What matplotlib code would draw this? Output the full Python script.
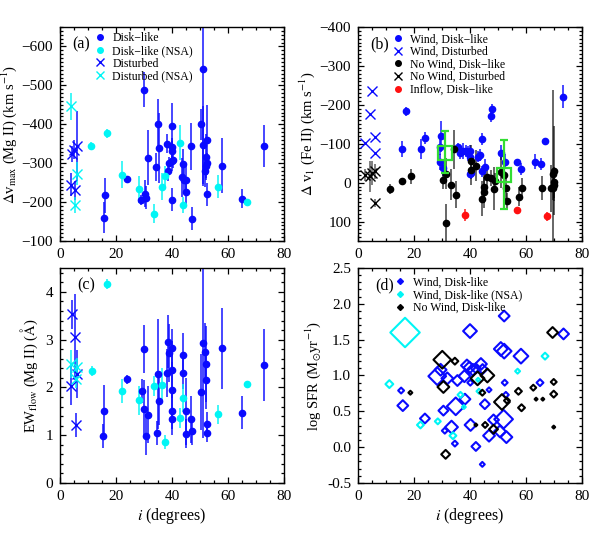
import matplotlib
matplotlib.use("Agg")
import matplotlib.pyplot as plt
from matplotlib.lines import Line2D
from matplotlib.ticker import MultipleLocator, FormatStrFormatter
import numpy as np

plt.rcParams['font.family'] = ['Liberation Serif', 'DejaVu Serif']
plt.rcParams['mathtext.fontset'] = 'stix'

# ---------------- panel (a): dv_max (Mg II) ----------------
a_disk_x = [15.7, 16.1, 23.8, 30.0, 28.8, 30.4, 30.6, 31.5, 34.3, 34.9, 35.5, 38.1, 38.7, 39.0,
            39.9, 39.9, 39.9, 39.9, 39.9, 40.2, 43.5, 44.0, 44.4, 45.0, 45.0, 46.8, 47.0, 50.4,
            51.0, 51.0, 51.8, 52.0, 52.1, 52.4, 52.4, 52.6, 57.7, 64.9, 73.0]
a_disk_y = [-160, -217, -260, -489, -205, -222, -211, -314, -290, -400, -339, -350, -279, -301,
            -305, -395, -341, -331, -206, -307, -264, -297, -258, -256, -226, -343, -157, -400,
            -541, -347, -280, -316, -293, -359, -220, -301, -294, -209, -344]
a_disk_err = [40, 45, 8, 45, 12, 35, 30, 70, 35, 65, 90, 25, 25, 15,
              25, 60, 25, 25, 30, 20, 50, 40, 30, 40, 35, 60, 30, 40,
              300, 100, 40, 60, 30, 90, 30, 25, 70, 25, 55]
a_nsa_x = [11.1, 16.9, 22.3, 28.3, 33.7, 36.6, 37.5, 42.9, 44.0, 56.5, 66.7]
a_nsa_y = [-344, -377, -270, -233, -170, -240, -267, -353, -193, -240, -199]
a_nsa_err = [10, 12, 35, 35, 25, 35, 25, 45, 20, 30, 6]
a_dist_x = [3.8, 4.2, 5.0, 5.4, 6.0]
a_dist_y = [-245, -323, -335, -230, -344]
a_dist_err = [30, 20, 25, 25, 90]
a_distnsa_x = [3.8, 6.0, 5.4]
a_distnsa_y = [-446, -273, -192]
a_distnsa_err = [35, 30, 20]

# ---------------- panel (b): dv_1 (Fe II) ----------------
b_wind_x = [15.8, 17.0, 22.4, 23.8, 29.2, 29.8, 29.4, 30.4, 35.7, 36.5, 37.5, 38.7, 39.3, 40.1,
            40.1, 40.2, 39.9, 42.9, 43.7, 44.3, 44.3, 45.2, 47.6, 47.9, 51.2, 52.4, 56.9, 58.3,
            63.3, 65.2, 66.9, 73.2]
b_wind_y = [-86, -183, -86, -114, -92, -119, -53, -37, -92, -75, -81, -81, -75, -67,
            -81, -25, -23, -67, -71, -112, -29, -40, -170, -188, -77, -54, -52, -35,
            -54, -48, -107, -221]
b_wind_err = [20, 12, 25, 15, 20, 40, 20, 20, 10, 15, 20, 15, 20, 15,
              15, 15, 10, 15, 15, 15, 15, 20, 15, 15, 20, 20, 10, 15,
              20, 15, 5, 30]
b_winddist_x = [2.6, 4.2, 5.0, 6.0, 6.2]
b_winddist_y = [-103, -177, -235, -118, -77]
b_nowind_x = [11.5, 15.7, 18.8, 30.4, 31.3, 31.5, 33.3, 34.3, 35.1, 40.2, 40.5, 42.3, 44.4, 44.9,
              45.0, 46.2, 47.4, 48.5, 48.8, 51.0, 52.1, 53.0, 53.3, 57.4, 58.7, 65.8, 69.0, 69.6,
              70.0, 70.0, 70.0, 69.6]
b_nowind_y = [16, -5, -16, -8, -23, 105, 5, -86, 31, -56, -33, -44, 42, 25,
              12, -14, -12, 16, -5, -27, -19, 15, 47, 36, 14, 14, 15, -22,
              -31, -1, 7, 14]
b_nowind_err = [12, 5, 20, 25, 40, 50, 40, 50, 35, 40, 40, 40, 45, 40,
                40, 25, 20, 55, 20, 40, 20, 30, 20, 25, 25, 30, 60, 215,
                115, 40, 40, 30]
b_nowinddist_x = [2.6, 4.2, 5.0, 6.0, 6.0]
b_nowinddist_y = [-19, -16, -25, -29, 53]
b_nowinddist_err = [15, 40, 30, 20, 10]
b_inflow_x = [38.3, 56.8, 67.5]
b_inflow_y = [83, 70, 87]
b_inflow_err = [15, 8, 12]
b_bin_x = [31.0, 52.1]
b_bin_y = [-75, -20]
b_bin_lo = [57, 89]
b_bin_hi = [50, 89]

# ---------------- panel (c): EW_flow (Mg II) ----------------
c_disk_x = [15.5, 15.8, 23.8, 29.2, 30.0, 30.1, 30.7, 31.5, 34.5, 34.9, 35.5, 38.1, 38.7, 38.9,
            39.9, 39.9, 39.9, 39.9, 39.9, 43.8, 43.9, 44.9, 44.9, 46.8, 47.0, 50.4, 51.0, 51.8,
            52.0, 52.1, 52.4, 52.4, 57.7, 64.9, 73.0]
c_disk_y = [0.98, 1.50, 2.17, 1.92, 2.81, 1.55, 0.98, 1.43, 1.05, 2.28, 1.71, 2.31, 2.96, 2.72,
            2.82, 2.37, 1.94, 1.50, 1.33, 2.31, 2.68, 1.50, 1.03, 1.33, 1.09, 1.90, 2.94, 2.74,
            2.49, 2.15, 1.24, 1.05, 2.82, 1.47, 2.47]
c_disk_err = [0.25, 0.55, 0.1, 0.25, 0.5, 0.6, 0.4, 0.6, 0.25, 1.15, 0.5, 0.5, 0.55, 0.6,
              0.4, 0.6, 0.6, 0.5, 0.2, 0.35, 0.45, 0.7, 0.3, 0.5, 0.3, 0.8, 2.0, 0.6,
              0.8, 0.6, 0.25, 0.2, 0.85, 0.35, 0.75]
c_nsa_x = [11.3, 16.9, 22.3, 28.3, 33.7, 36.5, 37.5, 42.9, 43.9, 56.5, 66.7]
c_nsa_y = [2.35, 4.17, 1.92, 1.73, 2.03, 2.06, 0.86, 1.36, 1.78, 1.44, 2.08]
c_nsa_err = [0.1, 0.1, 0.25, 0.3, 0.2, 0.35, 0.15, 0.2, 0.3, 0.2, 0.05]
c_dist_x = [4.2, 5.4, 6.0, 3.8, 5.6]
c_dist_y = [3.53, 3.05, 2.28, 2.04, 1.21]
c_dist_err = [0.3, 0.9, 0.5, 0.4, 0.25]
c_distnsa_x = [3.8, 6.0, 5.6]
c_distnsa_y = [2.49, 2.42, 2.18]
c_distnsa_err = [0.3, 0.2, 0.2]

# ---------------- panel (d): log SFR, symbol size per galaxy ----------------
d_wind_x = [15.4, 16.0, 23.9, 28.3, 29.5, 31.9, 35.5, 30.5, 34.9, 33.4, 31.0, 34.6, 38.2, 40.0,
            40.1, 40.2, 42.1, 44.4, 45.3, 46.8, 46.8, 48.4, 50.7, 52.0, 53.0, 52.2, 51.0, 52.2,
            58.2, 52.4, 52.8, 65.0, 73.4, 38.9, 39.8, 41.0, 42.1, 43.9, 44.5, 38.0]
d_wind_y = [0.79, 0.58, 0.40, 0.99, 1.08, 0.96, 0.93, 0.51, 0.57, 0.28, 0.23, 0.05, 0.67, 1.62,
            0.90, 0.31, 0.01, -0.24, 0.60, 0.80, 0.16, 0.38, 0.22, 0.39, 0.14, 1.83, 1.37, 1.34,
            1.27, 0.90, 0.73, 0.90, 1.58, 1.14, 1.11, 1.08, 1.10, 1.16, 1.09, 0.99]
d_wind_sym = [3, 5.5, 5, 9, 6, 6, 5.5, 5, 9, 6.5, 3, 3, 5.5, 7,
              3, 6, 4.5, 2.5, 5, 2.5, 6, 5.5, 6, 9.5, 6, 5.5, 7, 7.5,
              7.5, 3, 3, 3.5, 5.5, 6, 6, 6, 5, 6, 5, 6]
d_nsa_x = [16.8, 11.2, 22.3, 28.5, 33.9, 36.6, 37.8, 43.2, 42.9, 57.0, 66.8]
d_nsa_y = [1.60, 0.88, 0.31, 0.36, 0.16, 0.73, 0.56, 0.78, 0.94, 1.06, 1.27]
d_nsa_sym = [15, 4, 3.5, 3, 3.5, 3, 2, 2.5, 2, 2.5, 3.5]
d_nowind_x = [18.7, 30.1, 30.5, 31.3, 34.6, 42.7, 46.2, 44.4, 42.1, 45.4, 48.4, 51.4, 53.2, 57.3,
              58.4, 62.6, 63.6, 66.0, 69.5, 69.9, 69.9, 69.9]
d_nowind_y = [0.76, 1.22, 0.84, -0.10, 1.20, 0.96, 1.00, 0.76, 0.31, 0.31, 0.25, 0.63, 0.65, 0.78,
              0.55, 0.83, 0.67, 0.67, 1.60, 0.91, 0.74, 0.28]
d_nowind_sym = [2, 9, 6, 4.5, 3.5, 7, 7, 3, 1.5, 3, 4.5, 8, 3, 3.5,
                3.5, 3, 1.5, 1.5, 5.5, 3, 3.5, 1.5]

BLUE = '#0a0aff'
CYAN = '#00f5f5'
RED = '#ff1010'
GREEN = '#33dd33'

fig = plt.figure(figsize=(5.98, 5.38), dpi=100)
W, H = 598.0, 538.0
ax_a = fig.add_axes([60 / W, 1 - 241 / H, 224 / W, 214 / H])
ax_b = fig.add_axes([358 / W, 1 - 241 / H, 224 / W, 214 / H])
ax_c = fig.add_axes([60 / W, 1 - 483 / H, 224 / W, 215 / H])
ax_d = fig.add_axes([358 / W, 1 - 483 / H, 224 / W, 215 / H])


def style(ax, ymin, ymax, ymaj, ymin_step):
    ax.set_xlim(0, 80)
    ax.set_ylim(ymin, ymax)
    ax.xaxis.set_major_locator(MultipleLocator(20))
    ax.xaxis.set_minor_locator(MultipleLocator(5))
    ax.yaxis.set_major_locator(MultipleLocator(ymaj))
    ax.yaxis.set_minor_locator(MultipleLocator(ymin_step))
    ax.tick_params(which='both', direction='in', top=True, right=True, labelsize=11,
                   width=0.9)
    ax.tick_params(which='major', length=4.5, pad=5)
    ax.tick_params(which='minor', length=2.2)
    for s in ax.spines.values():
        s.set_linewidth(1.0)


def pts(ax, x, y, err, color, marker='o', ms=4.5, ealpha=0.75, mew=1.0):
    ax.errorbar(x, y, yerr=err, fmt='none', ecolor=color, elinewidth=1.4, alpha=ealpha, zorder=2)
    ax.plot(x, y, linestyle='none', marker=marker, ms=ms, color=color, mew=mew, zorder=3)


def leg(ax, handles, x0, y0):
    ax.legend(handles=handles, loc='upper left', bbox_to_anchor=(x0, y0), frameon=False,
              fontsize=8.5, borderpad=0, labelspacing=0.05, handlelength=1.0,
              handletextpad=0.6, borderaxespad=0)


YL = 10.5

# (a)
pts(ax_a, a_disk_x, a_disk_y, a_disk_err, BLUE)
pts(ax_a, a_nsa_x, a_nsa_y, a_nsa_err, CYAN)
pts(ax_a, a_dist_x, a_dist_y, a_dist_err, BLUE, marker='x', ms=7)
pts(ax_a, a_distnsa_x, a_distnsa_y, a_distnsa_err, CYAN, marker='x', ms=7)
style(ax_a, -100, -650, 100, 10)
ax_a.set_ylabel(r'$\Delta$v$_{\rm max}$ (Mg II) (km s$^{-1}$)', fontsize=YL, labelpad=2)
ax_a.text(0.055, 0.955, '(a)', transform=ax_a.transAxes, fontsize=11.5, va='top')
leg(ax_a, [Line2D([], [], ls='none', marker='o', ms=4, color=BLUE, label='Disk\u2212like'),
           Line2D([], [], ls='none', marker='o', ms=4, color=CYAN, label='Disk\u2212like (NSA)'),
           Line2D([], [], ls='none', marker='x', ms=6, color=BLUE, label='Disturbed'),
           Line2D([], [], ls='none', marker='x', ms=6, color=CYAN, label='Disturbed (NSA)')],
    0.15, 0.975)

# (b)
pts(ax_b, b_wind_x, b_wind_y, b_wind_err, BLUE)
ax_b.plot(b_winddist_x, b_winddist_y, ls='none', marker='x', ms=7, color=BLUE, zorder=3)
pts(ax_b, b_nowind_x, b_nowind_y, b_nowind_err, 'black', ealpha=0.6)
pts(ax_b, b_nowinddist_x, b_nowinddist_y, b_nowinddist_err, 'black', marker='x', ms=7,
    ealpha=0.5)
pts(ax_b, b_inflow_x, b_inflow_y, b_inflow_err, RED)
ax_b.errorbar(b_bin_x, b_bin_y, yerr=[b_bin_lo, b_bin_hi], fmt='s', ms=9.5, mfc='none',
              mec=GREEN, mew=1.6, ecolor=GREEN, elinewidth=1.6, capsize=3, capthick=1.6,
              zorder=5)
style(ax_b, 150, -400, 100, 10)
ax_b.set_ylabel(r'$\Delta$ v$_1$ (Fe II) (km s$^{-1}$)', fontsize=YL, labelpad=2)
ax_b.text(0.055, 0.955, '(b)', transform=ax_b.transAxes, fontsize=11.5, va='top')
leg(ax_b, [Line2D([], [], ls='none', marker='o', ms=4, color=BLUE, label='Wind, Disk\u2212like'),
           Line2D([], [], ls='none', marker='x', ms=6, color=BLUE, label='Wind, Disturbed'),
           Line2D([], [], ls='none', marker='o', ms=4, color='black', label='No Wind, Disk\u2212like'),
           Line2D([], [], ls='none', marker='x', ms=6, color='black', label='No Wind, Disturbed'),
           Line2D([], [], ls='none', marker='o', ms=4, color=RED, label='Inflow, Disk\u2212like')],
    0.15, 0.97)

# (c)
pts(ax_c, c_disk_x, c_disk_y, c_disk_err, BLUE)
pts(ax_c, c_nsa_x, c_nsa_y, c_nsa_err, CYAN)
pts(ax_c, c_dist_x, c_dist_y, c_dist_err, BLUE, marker='x', ms=7)
pts(ax_c, c_distnsa_x, c_distnsa_y, c_distnsa_err, CYAN, marker='x', ms=7)
style(ax_c, 0, 4.5, 1, 0.2)
ax_c.set_ylabel(r'EW$_{\rm flow}$ (Mg II) ($\rm\AA$)', fontsize=YL, labelpad=4)
ax_c.set_xlabel(r'$i$ (degrees)', fontsize=11.5, labelpad=2)
ax_c.text(0.075, 0.955, '(c)', transform=ax_c.transAxes, fontsize=11.5, va='top')

# (d)
ax_d.scatter(d_wind_x, d_wind_y, s=np.array(d_wind_sym) ** 2, marker='D', facecolors='none',
             edgecolors=BLUE, linewidths=1.5, zorder=3)
ax_d.scatter(d_nsa_x, d_nsa_y, s=np.array(d_nsa_sym) ** 2, marker='D', facecolors='none',
             edgecolors=CYAN, linewidths=1.5, zorder=3)
ax_d.scatter(d_nowind_x, d_nowind_y, s=np.array(d_nowind_sym) ** 2, marker='D',
             facecolors='none', edgecolors='black', linewidths=1.5, zorder=3)
style(ax_d, -0.5, 2.5, 0.5, 0.1)
ax_d.yaxis.set_major_formatter(FormatStrFormatter('%.1f'))
ax_d.set_ylabel(r'log SFR (M$_{\odot}$yr$^{-1}$)', fontsize=YL, labelpad=3)
ax_d.set_xlabel(r'$i$ (degrees)', fontsize=11.5, labelpad=2)
ax_d.text(0.075, 0.955, '(d)', transform=ax_d.transAxes, fontsize=11.5, va='top')
leg(ax_d, [Line2D([], [], ls='none', marker='D', ms=3, color=BLUE, label='Wind, Disk-like'),
           Line2D([], [], ls='none', marker='D', ms=3, color=CYAN, label='Wind, Disk-like (NSA)'),
           Line2D([], [], ls='none', marker='D', ms=3, color='black', label='No Wind, Disk-like')],
    0.16, 0.96)

fig.savefig('out.png', dpi=100)
